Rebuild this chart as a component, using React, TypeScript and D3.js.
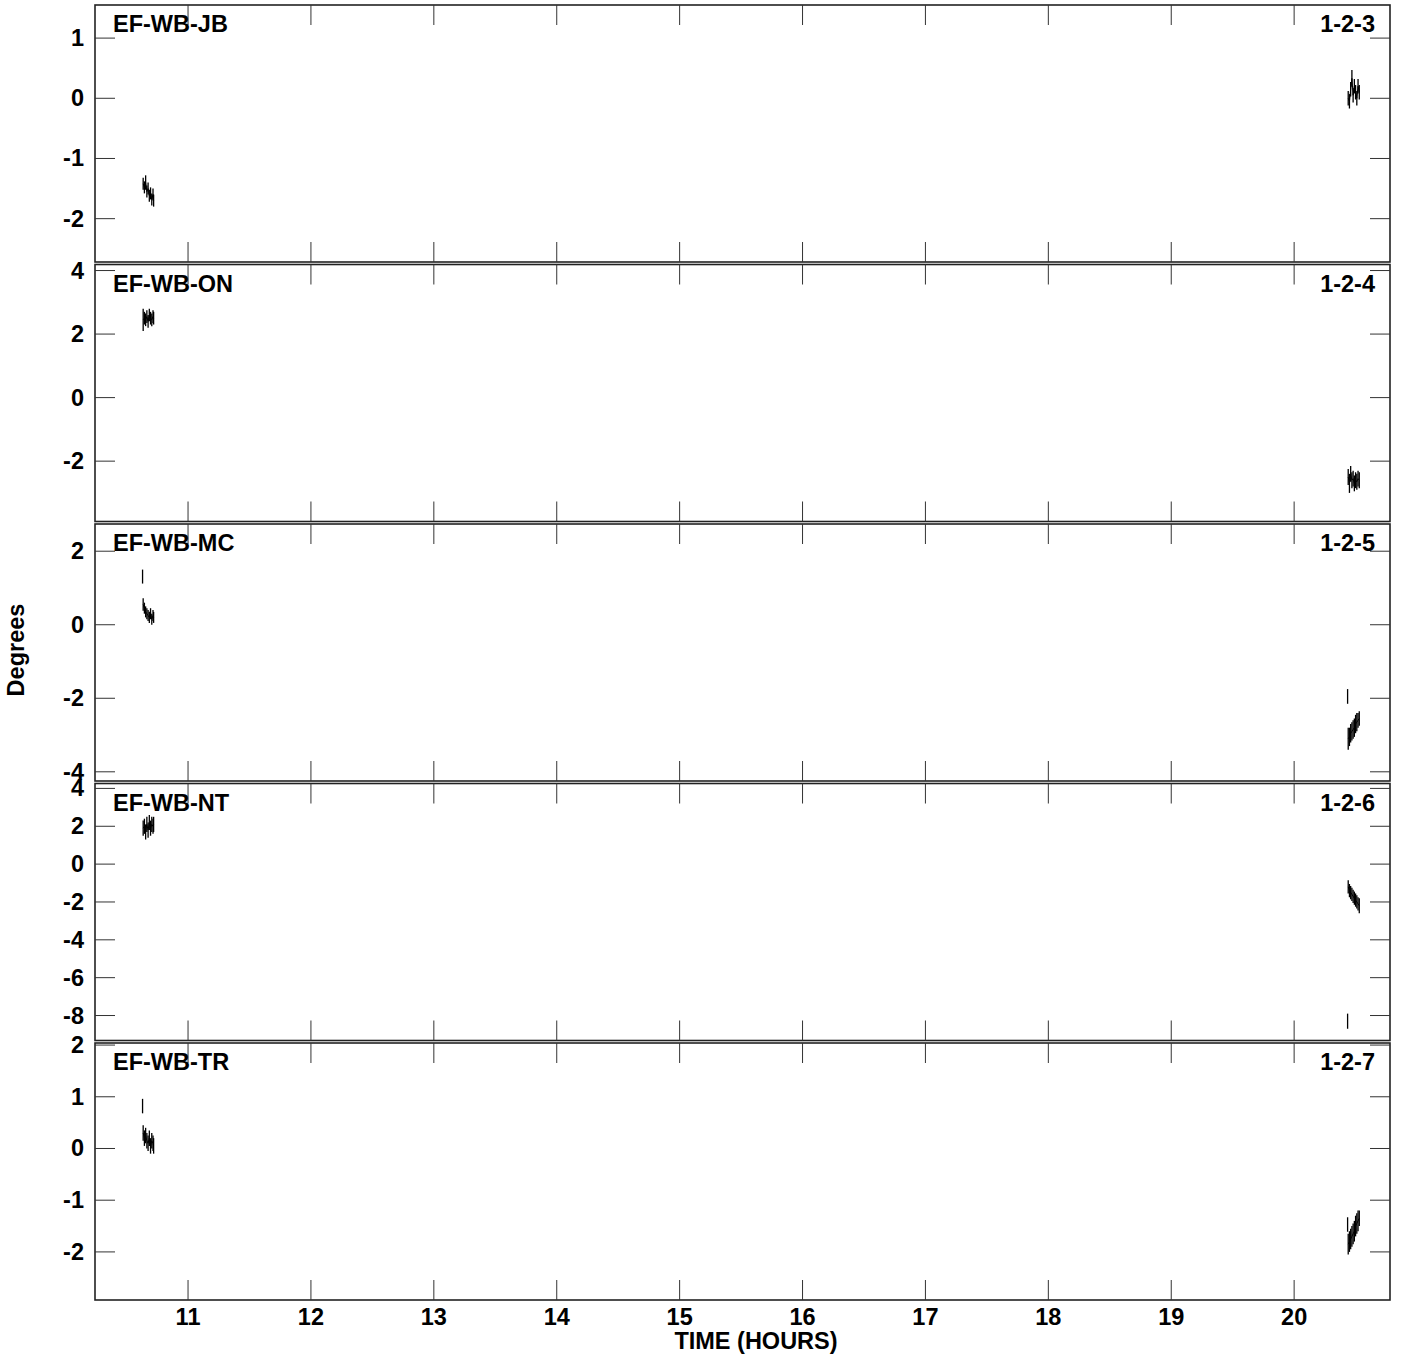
import React from "react";
import * as d3 from "d3";

const W = 1401;
const H = 1357;

const X_TICKS = [11, 12, 13, 14, 15, 16, 17, 18, 19, 20];
const X_DOMAIN = [10.243, 20.78];

const PANEL_LABELS = ["EF-WB-JB", "EF-WB-ON", "EF-WB-MC", "EF-WB-NT", "EF-WB-TR"];
const PANEL_CODES = ["1-2-3", "1-2-4", "1-2-5", "1-2-6", "1-2-7"];
const Y_DOMAINS: [number, number][] = [
  [-2.72, 1.55],
  [-3.9, 4.19],
  [-4.25, 2.74],
  [-9.32, 4.26],
  [-2.93, 2.04],
];
const Y_TICKS = [
  [1, 0, -1, -2],
  [4, 2, 0, -2],
  [2, 0, -2, -4],
  [4, 2, 0, -2, -4, -6, -8],
  [2, 1, 0, -1, -2],
];

const LEFT_TIMES = [10.635, 10.645, 10.655, 10.665, 10.675, 10.685, 10.695, 10.705, 10.715, 10.72];
const RIGHT_TIMES = [20.44, 20.45, 20.46, 20.47, 20.48, 20.49, 20.5, 20.51, 20.52, 20.53];

const JB_LEFT = [-1.42, -1.48, -1.4, -1.55, -1.5, -1.62, -1.58, -1.68, -1.6, -1.7];
const JB_LEFT_ERR = [0.1, 0.1, 0.12, 0.1, 0.1, 0.1, 0.1, 0.1, 0.1, 0.1];
const JB_RIGHT = [0.0, -0.05, 0.15, 0.33, 0.05, 0.2, 0.1, 0.0, 0.2, 0.1];
const JB_RIGHT_ERR = [0.12, 0.12, 0.12, 0.14, 0.12, 0.12, 0.12, 0.12, 0.12, 0.12];

const ON_LEFT = [2.45, 2.5, 2.45, 2.55, 2.4, 2.6, 2.5, 2.45, 2.55, 2.5];
const ON_LEFT_ERR = [0.35, 0.2, 0.2, 0.2, 0.2, 0.2, 0.2, 0.2, 0.2, 0.2];
const ON_RIGHT = [-2.5, -2.7, -2.4, -2.6, -2.55, -2.7, -2.6, -2.65, -2.55, -2.6];
const ON_RIGHT_ERR = [0.25, 0.3, 0.25, 0.25, 0.25, 0.25, 0.25, 0.25, 0.25, 0.25];

const MC_LEFT = [0.55, 0.45, 0.35, 0.3, 0.25, 0.2, 0.3, 0.15, 0.25, 0.2];
const MC_LEFT_ERR = [0.17, 0.15, 0.15, 0.15, 0.15, 0.15, 0.15, 0.15, 0.15, 0.15];
const MC_RIGHT = [-3.1, -3.05, -2.95, -2.9, -2.85, -2.8, -2.7, -2.65, -2.6, -2.55];
const MC_RIGHT_ERR = [0.3, 0.25, 0.25, 0.25, 0.25, 0.25, 0.25, 0.25, 0.2, 0.2];

const NT_LEFT = [1.9, 2.0, 1.7, 2.1, 1.8, 2.2, 1.9, 2.1, 2.0, 2.1];
const NT_LEFT_ERR = [0.4, 0.4, 0.4, 0.4, 0.4, 0.4, 0.4, 0.4, 0.4, 0.4];
const NT_RIGHT = [-1.2, -1.4, -1.5, -1.6, -1.7, -1.8, -1.9, -2.0, -2.1, -2.2];
const NT_RIGHT_ERR = [0.35, 0.35, 0.35, 0.35, 0.35, 0.35, 0.35, 0.35, 0.35, 0.4];

const TR_LEFT = [0.3, 0.2, 0.25, 0.15, 0.1, 0.2, 0.05, 0.15, 0.1, 0.05];
const TR_LEFT_ERR = [0.15, 0.15, 0.15, 0.15, 0.15, 0.15, 0.15, 0.15, 0.15, 0.15];
const TR_RIGHT = [-1.85, -1.8, -1.75, -1.7, -1.65, -1.6, -1.5, -1.45, -1.4, -1.35];
const TR_RIGHT_ERR = [0.2, 0.2, 0.2, 0.2, 0.2, 0.2, 0.2, 0.2, 0.2, 0.15];

// isolated (unconnected) first samples: [time, value, error]
const MC_ISOLATED = [
  [10.63, 1.31, 0.19],
  [20.435, -1.95, 0.2],
];
const NT_ISOLATED = [[20.435, -8.3, 0.4]];
const TR_ISOLATED = [
  [10.63, 0.82, 0.14],
  [20.435, -1.47, 0.14],
];

const PANEL_SERIES = [
  { left: JB_LEFT, leftErr: JB_LEFT_ERR, right: JB_RIGHT, rightErr: JB_RIGHT_ERR, iso: [] as number[][] },
  { left: ON_LEFT, leftErr: ON_LEFT_ERR, right: ON_RIGHT, rightErr: ON_RIGHT_ERR, iso: [] as number[][] },
  { left: MC_LEFT, leftErr: MC_LEFT_ERR, right: MC_RIGHT, rightErr: MC_RIGHT_ERR, iso: MC_ISOLATED },
  { left: NT_LEFT, leftErr: NT_LEFT_ERR, right: NT_RIGHT, rightErr: NT_RIGHT_ERR, iso: NT_ISOLATED },
  { left: TR_LEFT, leftErr: TR_LEFT_ERR, right: TR_RIGHT, rightErr: TR_RIGHT_ERR, iso: TR_ISOLATED },
];

const LEFT = 95;
const RIGHT = 1390;
const PANEL_TOPS = [5, 264.5, 524, 783.5, 1043];
const PANEL_H = 257;
const TICK = 20;
const FONT = "'Liberation Sans', Arial, Helvetica, sans-serif";
const FS = 23.5;

export default function App() {
  const x = d3.scaleLinear().domain(X_DOMAIN).range([LEFT, RIGHT]);
  const line = d3.line<[number, number]>();

  return (
    <svg
      width={W}
      height={H}
      style={{ position: "absolute", left: 0, top: 0, background: "#fff" }}
      fontFamily={FONT}
      fontWeight="bold"
    >
      <rect x={0} y={0} width={W} height={H} fill="#fff" />
      {PANEL_LABELS.map((lab, i) => {
        const top = PANEL_TOPS[i];
        const bot = top + PANEL_H;
        const y = d3.scaleLinear().domain(Y_DOMAINS[i]).range([bot, top]);
        const s = PANEL_SERIES[i];
        const segs = [
          { t: LEFT_TIMES, v: s.left, e: s.leftErr },
          { t: RIGHT_TIMES, v: s.right, e: s.rightErr },
        ];
        return (
          <g key={lab}>
            {segs.map((sg, k) => (
              <g key={k} stroke="#000" strokeWidth={1} fill="none">
                <path d={line(sg.t.map((t, j) => [x(t), y(sg.v[j])]))!} />
                {sg.t.map((t, j) => (
                  <line
                    key={j}
                    x1={x(t)}
                    x2={x(t)}
                    y1={y(sg.v[j] - sg.e[j])}
                    y2={y(sg.v[j] + sg.e[j])}
                    strokeWidth={1.3}
                  />
                ))}
              </g>
            ))}
            {s.iso.map((p, k) => (
              <line
                key={"iso" + k}
                x1={x(p[0])}
                x2={x(p[0])}
                y1={y(p[1] - p[2])}
                y2={y(p[1] + p[2])}
                stroke="#000"
                strokeWidth={1.3}
              />
            ))}
            <rect
              x={LEFT}
              y={top}
              width={RIGHT - LEFT}
              height={PANEL_H}
              fill="none"
              stroke="#222"
              strokeWidth={1.6}
            />
            {X_TICKS.map((t) => (
              <g key={t} stroke="#333" strokeWidth={1}>
                <line x1={x(t)} x2={x(t)} y1={top} y2={top + TICK} />
                <line x1={x(t)} x2={x(t)} y1={bot} y2={bot - TICK} />
              </g>
            ))}
            {Y_TICKS[i].map((v) => (
              <g key={v}>
                <line x1={LEFT} x2={LEFT + TICK} y1={y(v)} y2={y(v)} stroke="#333" strokeWidth={1} />
                <line x1={RIGHT} x2={RIGHT - TICK} y1={y(v)} y2={y(v)} stroke="#333" strokeWidth={1} />
                <text x={84} y={y(v)} textAnchor="end" dominantBaseline="central" fontSize={FS} fill="#000">
                  {v}
                </text>
              </g>
            ))}
            <text x={113} y={top + 27} fontSize={FS} fill="#000">
              {lab}
            </text>
            <text x={1375} y={top + 27} fontSize={FS} textAnchor="end" fill="#000">
              {PANEL_CODES[i]}
            </text>
          </g>
        );
      })}
      {X_TICKS.map((t) => (
        <text key={t} x={x(t)} y={1325} textAnchor="middle" fontSize={FS} fill="#000">
          {t}
        </text>
      ))}
      <text x={756} y={1349} textAnchor="middle" fontSize={FS} fill="#000">
        TIME (HOURS)
      </text>
      <text
        transform="translate(24,650) rotate(-90)"
        textAnchor="middle"
        fontSize={FS}
        fill="#000"
      >
        Degrees
      </text>
    </svg>
  );
}
